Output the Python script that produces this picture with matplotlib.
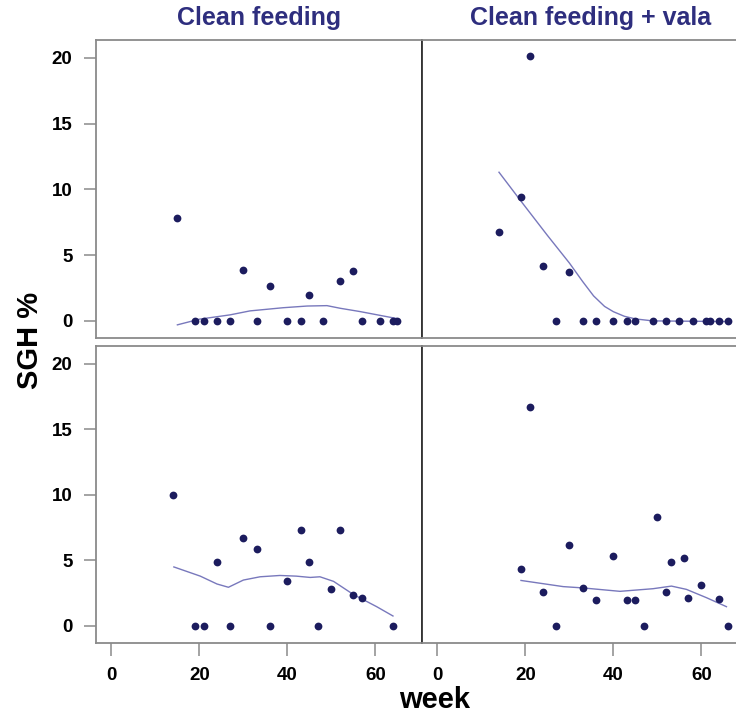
import matplotlib
matplotlib.use('Agg')
import matplotlib.pyplot as plt

plt.rcParams['font.family'] = ['Liberation Sans', 'DejaVu Sans']

TITLES = ['Clean feeding', 'Clean feeding + vala']

# top row
TL_WEEK = [15, 19, 21, 24, 27, 30, 33, 36, 40, 43, 45, 48, 52, 55, 57, 61, 64, 65]
TL_SGH = [7.8, 0, 0, 0, 0, 3.85, 0, 2.65, 0, 0, 1.95, 0, 3.0, 3.8, 0, 0, 0, 0]
TL_FIT_WEEK = [15, 20, 27, 31.5, 39, 44.5, 49, 52, 56.5, 65]
TL_FIT = [-0.3, 0.13, 0.46, 0.76, 1.0, 1.13, 1.16, 0.96, 0.71, 0.17]

TR_WEEK = [14, 19, 21, 24, 27, 30, 33, 36, 40, 43, 45, 49, 52, 55, 58, 61, 62, 64, 66]
TR_SGH = [6.75, 9.4, 20.1, 4.2, 0, 3.75, 0, 0, 0, 0, 0, 0, 0, 0, 0, 0, 0, 0, 0]
TR_FIT_WEEK = [14, 19, 25, 30, 33, 35.5, 38, 40, 42.5, 45, 49, 66]
TR_FIT = [11.3, 9.1, 6.5, 4.4, 3.0, 1.9, 1.1, 0.7, 0.35, 0.15, 0.0, -0.05]

# bottom row
BL_WEEK = [14, 19, 21, 24, 27, 30, 33, 36, 40, 43, 45, 47, 50, 52, 55, 57, 64]
BL_SGH = [10.0, 0, 0, 4.85, 0, 6.7, 5.85, 0, 3.4, 7.3, 4.85, 0, 2.8, 7.3, 2.35, 2.15, 0]
BL_FIT_WEEK = [14.2, 20.2, 24, 26.6, 30, 33.8, 38.3, 42, 45.2, 47.4, 50.5, 55, 60.3, 64]
BL_FIT = [4.5, 3.8, 3.2, 2.95, 3.5, 3.75, 3.85, 3.8, 3.7, 3.75, 3.4, 2.4, 1.47, 0.76]

BR_WEEK = [19, 21, 24, 27, 30, 33, 36, 40, 43, 45, 47, 50, 52, 53, 56, 57, 60, 64, 66]
BR_SGH = [4.35, 16.7, 2.6, 0, 6.2, 2.9, 2.0, 5.35, 1.95, 1.95, 0, 8.3, 2.6, 4.85, 5.2, 2.15, 3.15, 2.05, 0]
BR_FIT_WEEK = [19, 28.6, 33.1, 41.5, 49, 53.2, 56.6, 61.2, 65.7]
BR_FIT = [3.47, 3.0, 2.9, 2.64, 2.84, 3.04, 2.79, 2.15, 1.47]

X_TICKS = [0, 20, 40, 60]
Y_TICKS = [0, 5, 10, 15, 20]

POINT_COLOR = '#1c1c5e'
LINE_COLOR = '#7878bc'
TITLE_COLOR = '#2e2e7e'
BOX_COLOR = '#8a8a8a'

W, H = 736, 726


def panel(fig, x0, y0, w, h):
    return fig.add_axes([x0 / W, 1 - (y0 + h) / H, w / W, h / H])


def draw(ax, week, sgh, fit_week, fit):
    ax.plot(fit_week, fit, color=LINE_COLOR, lw=1.0, zorder=2)
    ax.plot(week, sgh, 'o', color=POINT_COLOR, ms=5.6, mec='none', zorder=3)
    ax.set_xlim(-3.5, 70.6)
    ax.set_ylim(-1.3, 21.35)
    for s in ax.spines.values():
        s.set_color(BOX_COLOR)
        s.set_linewidth(1.3)
    ax.tick_params(length=9, width=1.1, color=BOX_COLOR, labelsize=13.5, pad=8)


def main():
    fig = plt.figure(figsize=(W / 100, H / 100), dpi=100)
    tl = panel(fig, 96, 40, 326, 298)
    tr = panel(fig, 422, 40, 326, 298)
    bl = panel(fig, 96, 346, 326, 297)
    br = panel(fig, 422, 346, 326, 297)

    draw(tl, TL_WEEK, TL_SGH, TL_FIT_WEEK, TL_FIT)
    draw(tr, TR_WEEK, TR_SGH, TR_FIT_WEEK, TR_FIT)
    draw(bl, BL_WEEK, BL_SGH, BL_FIT_WEEK, BL_FIT)
    draw(br, BR_WEEK, BR_SGH, BR_FIT_WEEK, BR_FIT)

    for ax in [tl, bl]:
        ax.set_yticks(Y_TICKS)
        ax.set_yticklabels([str(t) for t in Y_TICKS], fontweight='bold')
        ax.spines['right'].set_color('#333333')
    for ax in [tr, br]:
        ax.set_yticks([])
        ax.spines['left'].set_color('#333333')
    for ax in [tl, tr]:
        ax.set_xticks([])
    for ax in [bl, br]:
        ax.set_xticks(X_TICKS)
        ax.set_xticklabels([str(t) for t in X_TICKS], fontweight='bold')

    fig.text(259 / W, 1 - 18 / H, TITLES[0], color=TITLE_COLOR, fontsize=18,
             fontweight='bold', ha='center', va='center')
    fig.text(591 / W, 1 - 18 / H, TITLES[1], color=TITLE_COLOR, fontsize=18,
             fontweight='bold', ha='center', va='center')

    fig.text(30 / W, 1 - 340 / H, 'SGH %', rotation=90, fontsize=21, fontweight='bold',
             ha='center', va='center')
    fig.text(435 / W, 1 - 700 / H, 'week', fontsize=21, fontweight='bold',
             ha='center', va='center')

    plt.savefig('out.png', dpi=100)


if __name__ == '__main__':
    main()
